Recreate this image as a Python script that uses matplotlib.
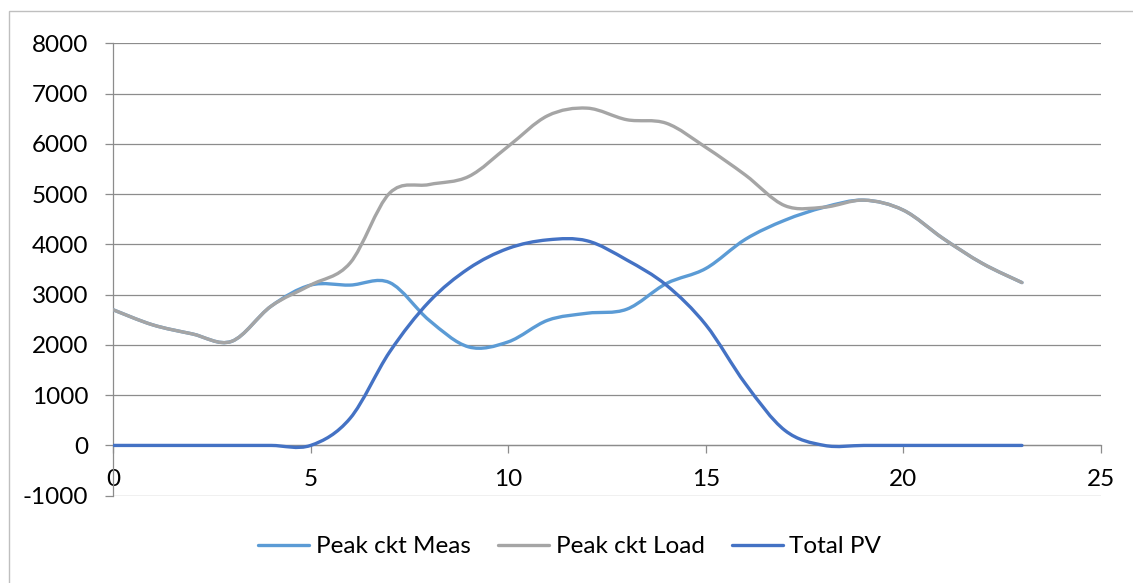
import matplotlib
matplotlib.use("Agg")
import matplotlib.pyplot as plt
from matplotlib.path import Path
from matplotlib.patches import PathPatch, Rectangle
from matplotlib.lines import Line2D

hours = list(range(24))
peak_ckt_meas = [2700, 2400, 2220, 2070, 2770, 3190, 3190, 3240, 2490, 1960, 2060, 2490,
                 2630, 2710, 3220, 3520, 4100, 4480, 4740, 4880, 4680, 4120, 3620, 3240]
peak_ckt_load = [2700, 2400, 2220, 2070, 2770, 3190, 3630, 5020, 5190, 5350, 5950, 6560,
                 6710, 6480, 6410, 5930, 5380, 4770, 4740, 4880, 4680, 4120, 3620, 3240]
total_pv = [0, 0, 0, 0, 0, 0, 540, 1860, 2860, 3520, 3920, 4090,
            4070, 3690, 3190, 2400, 1230, 300, 0, 0, 0, 0, 0, 0]

series_names = ["Peak ckt Meas", "Peak ckt Load", "Total PV"]
series_values = [peak_ckt_meas, peak_ckt_load, total_pv]
colors = ["#5B9BD5", "#A5A5A5", "#4472C4"]

x_ticks = [0, 5, 10, 15, 20, 25]
y_ticks = list(range(-1000, 8001, 1000))

FONT = "Lato"
FS = 17.5
plt.rcParams["font.family"] = [FONT, "DejaVu Sans"]
plt.rcParams["axes.unicode_minus"] = False

W, H = 1133, 583
fig = plt.figure(figsize=(W / 100, H / 100), dpi=100)
fig.patch.set_facecolor("white")

# outer chart border (left and top visible)
fig.patches.append(Rectangle((9 / W, -0.2), 1.5, 1 - 11 / H + 0.2, transform=fig.transFigure,
                             fill=False, edgecolor="#BFBFBF", linewidth=1.0))

ax = fig.add_axes([113 / W, 1 - 495.7 / H, (1101 - 113) / W, (495.7 - 43.3) / H])
ax.set_xlim(0, 25)
ax.set_ylim(-1000, 8000)

grid_c = "#8C8C8C"
for s in ax.spines.values():
    s.set_visible(False)
ax.spines["left"].set_visible(True)
ax.spines["left"].set_color(grid_c)
ax.spines["left"].set_linewidth(0.9)
ax.spines["bottom"].set_visible(True)
ax.spines["bottom"].set_position(("data", 0))
ax.spines["bottom"].set_color(grid_c)
ax.spines["bottom"].set_linewidth(0.9)

ax.set_yticks(y_ticks)
ax.set_xticks(x_ticks)
ax.yaxis.grid(True, color=grid_c, linewidth=0.9)
ax.set_axisbelow(True)
ax.tick_params(axis="y", direction="out", length=5.8, width=0.9, color=grid_c,
               pad=12, labelsize=FS, labelcolor="black")
ax.tick_params(axis="x", direction="out", length=5.8, width=0.9, color=grid_c,
               pad=11, labelsize=FS, labelcolor="black")


def smooth_path(xs, ys):
    n = len(xs)
    pts = list(zip(xs, ys))
    verts = [pts[0]]
    codes = [Path.MOVETO]
    for i in range(n - 1):
        p0 = pts[i - 1] if i > 0 else pts[i]
        p1 = pts[i]
        p2 = pts[i + 1]
        p3 = pts[i + 2] if i + 2 < n else pts[i + 1]
        c1 = (p1[0] + (p2[0] - p0[0]) / 6, p1[1] + (p2[1] - p0[1]) / 6)
        c2 = (p2[0] - (p3[0] - p1[0]) / 6, p2[1] - (p3[1] - p1[1]) / 6)
        verts += [c1, c2, p2]
        codes += [Path.CURVE4] * 3
    return Path(verts, codes)


handles = []
for name, vals, col in zip(series_names, series_values, colors):
    patch = PathPatch(smooth_path(hours, vals), fill=False, edgecolor=col,
                      linewidth=2.4, capstyle="round", joinstyle="round", zorder=3)
    ax.add_patch(patch)
    handles.append(Line2D([], [], color=col, linewidth=2.4, solid_capstyle="round"))

fig.legend(handles, series_names, loc="center", bbox_to_anchor=(0.503, 1 - 546.7 / H),
           ncol=3, frameon=False, fontsize=FS, handlelength=2.1, handletextpad=0.25,
           columnspacing=1.15)

fig.savefig("out.png", dpi=100)
